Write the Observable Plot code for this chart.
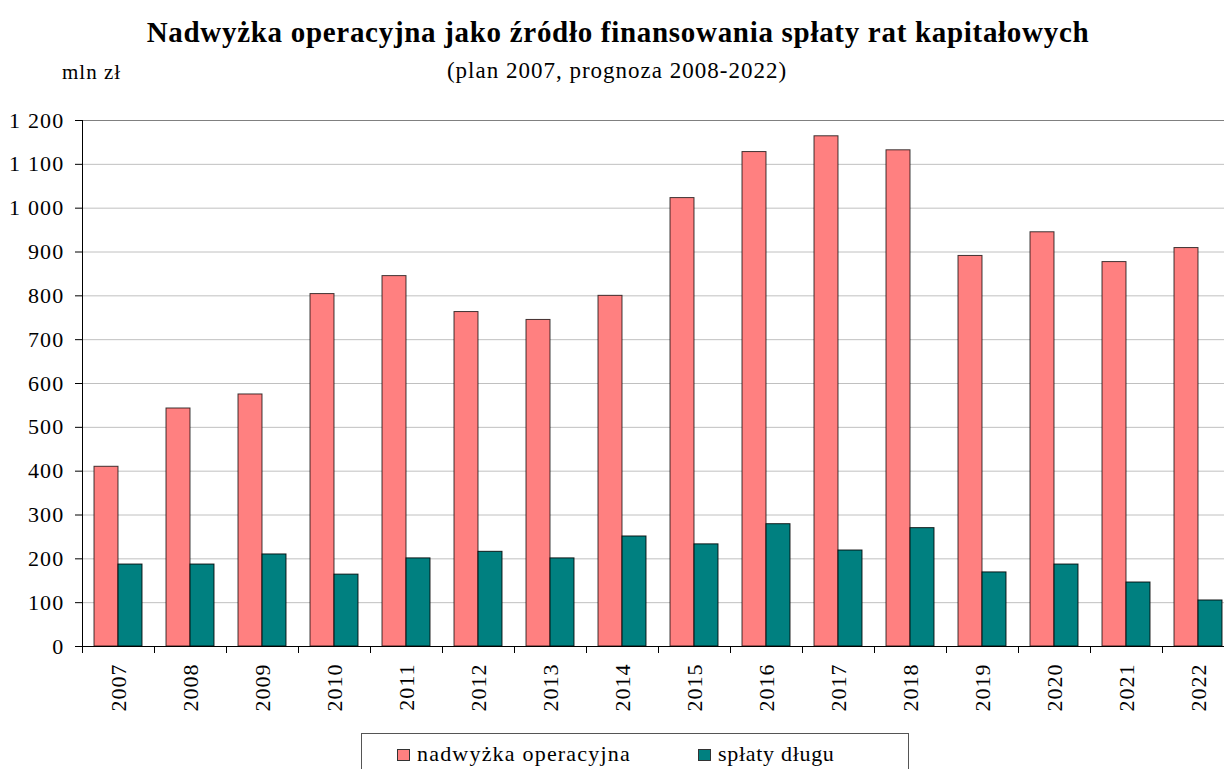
<!DOCTYPE html>
<html>
<head>
<meta charset="utf-8">
<script src="https://cdn.jsdelivr.net/npm/d3@7"></script>
<script src="https://cdn.jsdelivr.net/npm/@observablehq/plot@0.6"></script>
<style>
  html, body { margin: 0; padding: 0; background: #fff; width: 1224px; height: 769px; overflow: hidden; }
  body { font-family: "Liberation Serif", "Times New Roman", serif; color: #000; position: relative; }
  #header { position: relative; height: 100px; width: 1224px; }
  #title { position: absolute; left: 0; width: 1236px; top: 13px; text-align: center; font-family: "Liberation Serif", serif; font-size: 29px; letter-spacing: 0.7px; font-weight: bold; line-height: 38px; }
  #subtitle { position: absolute; left: 0; width: 1234px; top: 56px; text-align: center; font-family: "Liberation Serif", serif; font-size: 23px; letter-spacing: 1px; line-height: 30px; }
  #unit { position: absolute; left: 62px; top: 59px; font-family: "Liberation Serif", serif; font-size: 21px; letter-spacing: 1px; line-height: 26px; }
  #chart { position: absolute; left: 0; top: 100px; width: 1234px; }
  #chart svg { max-width: none !important; width: 1234px !important; height: 633px !important; }
  #chart svg text { font-family: "Liberation Serif", "Times New Roman", serif; }
  #chart svg g[aria-label="y-axis tick label"] text { letter-spacing: 1.2px; }
  #chart svg g[aria-label="x-axis tick label"] text { letter-spacing: 1px; }
  #legend { position: absolute; left: 361px; top: 733px; width: 548px; height: 60px; border: 1px solid #555; box-sizing: border-box; }
  .item { position: absolute; top: 5px; font-family: "Liberation Serif", serif; font-size: 22px; letter-spacing: 0.7px; line-height: 30px; white-space: nowrap; }
  .item.first { letter-spacing: 1.2px; }
  .sw { display: inline-block; width: 11px; height: 10px; border: 1px solid #333; margin-right: 7px; vertical-align: 0px; }
</style>
</head>
<body>
<div id="header">
  <div id="title"></div>
  <div id="subtitle"></div>
  <div id="unit"></div>
</div>
<div id="chart"></div>
<div id="legend"></div>
<script>
const years = ["2007","2008","2009","2010","2011","2012","2013","2014","2015","2016","2017","2018","2019","2020","2021","2022"];
const nadwyzka = [410, 543, 575, 804, 845, 763, 745, 800, 1023, 1128, 1164, 1132, 891, 945, 877, 909];
const splaty = [187, 187, 210, 164, 201, 216, 201, 251, 233, 279, 219, 270, 169, 187, 146, 105];
const yTicks = [0, 100, 200, 300, 400, 500, 600, 700, 800, 900, 1000, 1100, 1200];
const seriesNames = ["nadwyżka operacyjna", "spłaty długu"];
const seriesColors = ["#FF8080", "#008080"];
const titleText = "Nadwyżka operacyjna jako źródło finansowania spłaty rat kapitałowych";
const subtitleText = "(plan 2007, prognoza 2008-2022)";
const unitText = "mln zł";

document.getElementById("title").textContent = titleText;
document.getElementById("subtitle").textContent = subtitleText;
document.getElementById("unit").textContent = unitText;

const rows = years.map((y, i) => ({year: y, a: nadwyzka[i], b: splaty[i]}));
const fmt = d3.formatLocale({decimal: ",", thousands: " ", grouping: [3], currency: ["", ""]}).format(",");
const serif = "'Liberation Serif', 'Times New Roman', serif";

const chart = Plot.plot({
  width: 1234,
  height: 633,
  marginLeft: 82,
  marginRight: 0,
  marginTop: 20,
  marginBottom: 87,
  style: {fontFamily: serif, color: "#000", background: "transparent", overflow: "visible", maxWidth: "none"},
  x: {domain: years, padding: 0, label: null},
  y: {domain: [0, 1200], label: null},
  marks: [
    Plot.gridY(yTicks.slice(0, -1), {stroke: "#c0c0c0", strokeOpacity: 1, strokeWidth: 1}),
    Plot.ruleY(yTicks.slice(-1), {stroke: "#808080", strokeWidth: 1}),
    Plot.barY(rows, {x: "year", y: "a", fill: seriesColors[0], stroke: "#000", strokeOpacity: 0.75, strokeWidth: 1, insetLeft: 12, insetRight: 36}),
    Plot.barY(rows, {x: "year", y: "b", fill: seriesColors[1], stroke: "#000", strokeOpacity: 0.85, strokeWidth: 1, insetLeft: 36, insetRight: 12}),
    Plot.axisY(yTicks, {tickSize: 7, tickPadding: 11, tickFormat: fmt, fontSize: 22, fontFamily: serif, stroke: "#000", label: null}),
    Plot.axisX({tickSize: 0, tickPadding: 17, tickRotate: -90, fontSize: 22, fontFamily: serif, label: null}),
    Plot.axisX({tickSize: 7, tickFormat: () => "", dx: -36, stroke: "#000", label: null}),
    Plot.frame({anchor: "left", stroke: "#000"}),
    Plot.ruleY([0], {stroke: "#000"})
  ]
});
document.getElementById("chart").appendChild(chart);

const legend = document.getElementById("legend");
const pos = [35, 336];
seriesNames.forEach((name, i) => {
  const it = document.createElement("div");
  it.className = i === 0 ? "item first" : "item";
  it.style.left = pos[i] + "px";
  const sw = document.createElement("span");
  sw.className = "sw";
  sw.style.background = seriesColors[i];
  it.appendChild(sw);
  it.appendChild(document.createTextNode(name));
  legend.appendChild(it);
});
</script>
</body>
</html>
